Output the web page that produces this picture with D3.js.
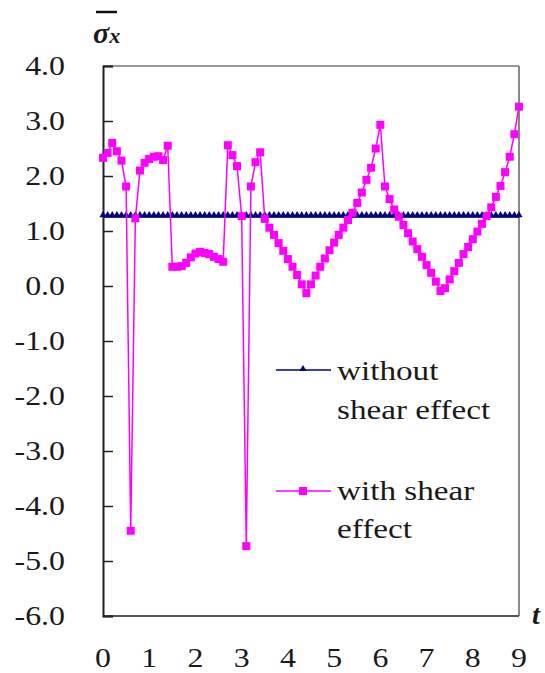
<!DOCTYPE html>
<html><head><meta charset="utf-8">
<script src="https://cdn.jsdelivr.net/npm/d3@7"></script>
<style>
html,body{margin:0;padding:0;background:#fff;}
svg{display:block;}
</style></head>
<body>
<svg id="chart" width="545" height="673"></svg>
<script>
const tValues = [0.0,0.1,0.2,0.3,0.4,0.5,0.6,0.7,0.8,0.9,1.0,1.1,1.2,1.3,1.4,1.5,1.6,1.7,1.8,1.9,
  2.0,2.1,2.2,2.3,2.4,2.5,2.6,2.7,2.8,2.9,3.0,3.1,3.2,3.3,3.4,3.5,3.6,3.7,3.8,3.9,
  4.0,4.1,4.2,4.3,4.4,4.5,4.6,4.7,4.8,4.9,5.0,5.1,5.2,5.3,5.4,5.5,5.6,5.7,5.8,5.9,
  6.0,6.1,6.2,6.3,6.4,6.5,6.6,6.7,6.8,6.9,7.0,7.1,7.2,7.3,7.4,7.5,7.6,7.7,7.8,7.9,
  8.0,8.1,8.2,8.3,8.4,8.5,8.6,8.7,8.8,8.9,9.0];
const withoutShear = [1.27,1.27,1.27,1.27,1.27,1.27,1.27,1.27,1.27,1.27,1.27,1.27,1.27,1.27,1.27,1.27,1.27,1.27,1.27,1.27,
  1.27,1.27,1.27,1.27,1.27,1.27,1.27,1.27,1.27,1.27,1.27,1.27,1.27,1.27,1.27,1.27,1.27,1.27,1.27,1.27,
  1.27,1.27,1.27,1.27,1.27,1.27,1.27,1.27,1.27,1.27,1.27,1.27,1.27,1.27,1.27,1.27,1.27,1.27,1.27,1.27,
  1.27,1.27,1.27,1.27,1.27,1.27,1.27,1.27,1.27,1.27,1.27,1.27,1.27,1.27,1.27,1.27,1.27,1.27,1.27,1.27,
  1.27,1.27,1.27,1.27,1.27,1.27,1.27,1.27,1.27,1.27,1.27];
const withShear = [2.33,2.42,2.60,2.45,2.28,1.81,-4.45,1.23,2.10,2.24,2.31,2.35,2.36,2.29,2.55,0.35,0.35,0.36,0.42,0.52,
  0.59,0.62,0.60,0.58,0.53,0.49,0.44,2.56,2.38,2.18,1.27,-4.73,1.81,2.25,2.43,1.22,1.06,0.93,0.78,0.64,
  0.49,0.35,0.20,0.03,-0.13,0.03,0.19,0.35,0.50,0.65,0.79,0.93,1.06,1.20,1.33,1.51,1.70,1.93,2.15,2.50,
  2.93,1.81,1.58,1.39,1.26,1.11,0.96,0.81,0.67,0.53,0.38,0.24,0.08,-0.09,-0.04,0.12,0.27,0.42,0.58,0.71,
  0.85,0.99,1.13,1.27,1.43,1.62,1.82,2.07,2.35,2.76,3.26];
const yTicks = [4,3,2,1,0,-1,-2,-3,-4,-5,-6];
const yTickLabels = ["4.0","3.0","2.0","1.0","0.0","-1.0","-2.0","-3.0","-4.0","-5.0","-6.0"];
const xTicks = [0,1,2,3,4,5,6,7,8,9];
const xTickLabels = ["0","1","2","3","4","5","6","7","8","9"];
const seriesNames = ["without", "shear effect", "with shear", "effect"];

const FONT = "Liberation Serif";
const svg = d3.select("#chart");
const L = 103, R = 519, T = 66, B = 616;
const x = d3.scaleLinear().domain([0, 9]).range([L, R]);
const y = d3.scaleLinear().domain([-6, 4]).range([B, T]);
const TXT = "#1a1a1a";

// frame
svg.append("line").attr("x1", L).attr("x2", R).attr("y1", T).attr("y2", T).attr("stroke", "#333").attr("stroke-width", 1);
svg.append("line").attr("x1", R).attr("x2", R).attr("y1", T).attr("y2", B).attr("stroke", "#888").attr("stroke-width", 2);
svg.append("line").attr("x1", L).attr("x2", R).attr("y1", B).attr("y2", B).attr("stroke", "#555").attr("stroke-width", 2);

// y axis with inward ticks
const yAxis = d3.axisRight(y).tickValues(yTicks).tickSize(10).tickFormat("");
const yg = svg.append("g").attr("transform", `translate(${L},0)`).call(yAxis);
yg.select(".domain").attr("stroke", "#222").attr("stroke-width", 2);
yg.selectAll(".tick line").attr("stroke", "#222").attr("stroke-width", 1.5);

// y tick labels
svg.append("g").selectAll("text").data(yTicks).join("text")
  .attr("transform", d => `translate(65,${y(d) + 9}) scale(1.18,1)`)
  .attr("text-anchor", "end").attr("font-family", FONT).attr("font-size", 27).attr("fill", TXT)
  .text((d, i) => yTickLabels[i]);

// x tick labels
svg.append("g").selectAll("text").data(xTicks).join("text")
  .attr("transform", d => `translate(${x(d)},${667}) scale(1.18,1)`)
  .attr("text-anchor", "middle").attr("font-family", FONT).attr("font-size", 27).attr("fill", TXT)
  .text((d, i) => xTickLabels[i]);

// axis titles
const yt = svg.append("text").attr("x", 93).attr("y", 43).attr("fill", TXT).attr("font-family", FONT)
  .attr("font-size", 30).attr("font-weight", "bold").attr("font-style", "italic");
yt.append("tspan").text("σ");
yt.append("tspan").attr("font-size", 22).text("x");
svg.append("line").attr("x1", 96).attr("x2", 117).attr("y1", 12).attr("y2", 12).attr("stroke", "#111").attr("stroke-width", 2.5);
svg.append("text").attr("x", 532).attr("y", 624).attr("fill", TXT).attr("font-family", FONT).attr("font-size", 28).attr("font-weight", "bold").attr("font-style", "italic").text("t");

// series
const line = d3.line().x((d, i) => x(tValues[i])).y(d => y(d));
const tri = d3.symbol().type(d3.symbolTriangle).size(22);

svg.append("path").datum(withoutShear).attr("d", line)
  .attr("fill", "none").attr("stroke", "#000080").attr("stroke-width", 3);
svg.append("g").selectAll("path").data(withoutShear).join("path")
  .attr("d", tri).attr("fill", "#000080")
  .attr("transform", (d, i) => `translate(${x(tValues[i])},${y(d) - 1})`);

svg.append("path").datum(withShear).attr("d", line)
  .attr("fill", "none").attr("stroke", "#ff00ff").attr("stroke-width", 1.5);
svg.append("g").selectAll("rect").data(withShear).join("rect")
  .attr("x", (d, i) => x(tValues[i]) - 4).attr("y", d => y(d) - 4)
  .attr("width", 8).attr("height", 8).attr("fill", "#ff00ff");

// legend
const lg = svg.append("g");
lg.append("line").attr("x1", 276).attr("x2", 331).attr("y1", 370).attr("y2", 370).attr("stroke", "#000080").attr("stroke-width", 1.5);
lg.append("path").attr("d", tri).attr("fill", "#000080").attr("transform", "translate(303,369)");
lg.append("line").attr("x1", 276).attr("x2", 331).attr("y1", 491).attr("y2", 491).attr("stroke", "#ff00ff").attr("stroke-width", 1.5);
lg.append("rect").attr("x", 299).attr("y", 487).attr("width", 8).attr("height", 8).attr("fill", "#ff00ff");
const legendPos = [[337, 380], [337, 419], [337, 500], [337, 538]];
lg.selectAll("text.lt").data(seriesNames).join("text").attr("class", "lt")
  .attr("transform", (d, i) => `translate(${legendPos[i][0]},${legendPos[i][1]}) scale(1.23,1)`)
  .attr("font-family", FONT).attr("font-size", 27).attr("fill", TXT).text(d => d);
</script>
</body></html>
